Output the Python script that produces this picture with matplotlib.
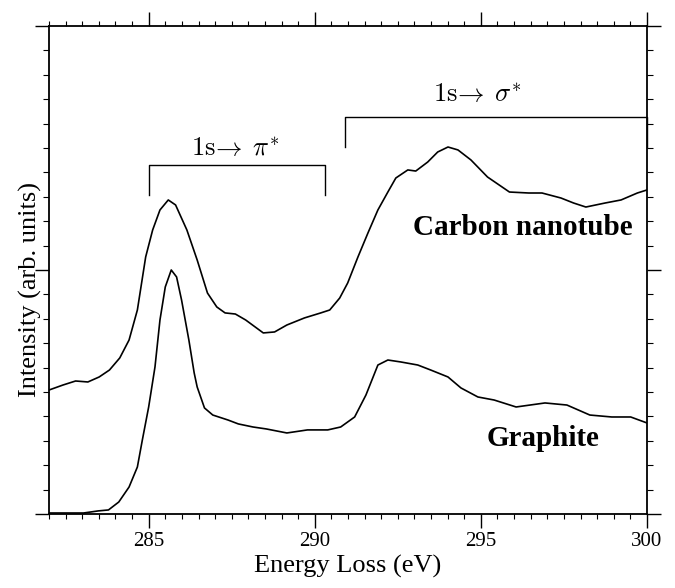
#!/usr/bin/env python3
# -*- coding: utf-8 -*-
"""C 1s energy loss spectra: carbon nanotube vs graphite"""

import numpy as np
import matplotlib
matplotlib.use('Agg')
import matplotlib.pyplot as plt
from matplotlib.ticker import MultipleLocator

# 数据 (eV, arb. units)
nanotube_energy = [282.0, 282.42, 282.80, 283.17, 283.51, 283.82, 284.13, 284.41, 284.66,
                   284.91, 285.12, 285.34, 285.59, 285.81, 286.15, 286.46, 286.77, 287.05,
                   287.30, 287.61, 287.92, 288.45, 288.79, 289.16, 289.69, 290.18, 290.45,
                   290.75, 290.99, 291.30, 291.60, 291.90, 292.20, 292.44, 292.80, 293.04,
                   293.40, 293.70, 294.01, 294.31, 294.70, 295.20, 295.86, 296.44, 296.84,
                   297.41, 297.79, 298.16, 298.74, 299.22, 299.71, 300.0]
nanotube_intensity = [1.016, 1.057, 1.090, 1.082, 1.123, 1.180, 1.279, 1.426, 1.672,
                      2.107, 2.328, 2.492, 2.574, 2.533, 2.328, 2.082, 1.811, 1.697,
                      1.648, 1.639, 1.590, 1.484, 1.492, 1.549, 1.607, 1.648, 1.672,
                      1.770, 1.893, 2.107, 2.303, 2.492, 2.639, 2.754, 2.820, 2.811,
                      2.885, 2.967, 3.008, 2.984, 2.902, 2.762, 2.639, 2.631, 2.631,
                      2.590, 2.549, 2.516, 2.549, 2.574, 2.631, 2.656]

graphite_energy = [282.0, 283.04, 283.48, 283.79, 284.10, 284.41, 284.66, 284.81, 285.00,
                   285.19, 285.34, 285.50, 285.68, 285.84, 285.99, 286.21, 286.37, 286.46,
                   286.68, 286.93, 287.39, 287.70, 288.14, 288.54, 289.16, 289.78, 290.39,
                   290.78, 291.20, 291.54, 291.90, 292.20, 292.59, 293.10, 293.49, 294.01,
                   294.40, 294.91, 295.40, 296.06, 296.93, 297.59, 298.28, 298.94, 299.51,
                   300.0]
graphite_intensity = [0.008, 0.008, 0.025, 0.033, 0.098, 0.221, 0.385, 0.607, 0.877,
                      1.205, 1.590, 1.861, 2.000, 1.943, 1.754, 1.426, 1.156, 1.041,
                      0.869, 0.811, 0.770, 0.738, 0.713, 0.697, 0.664, 0.689, 0.689,
                      0.713, 0.795, 0.975, 1.221, 1.262, 1.246, 1.221, 1.180, 1.123,
                      1.033, 0.959, 0.934, 0.877, 0.910, 0.893, 0.811, 0.795, 0.795,
                      0.746]

xticks = [285, 290, 295, 300]

# 跃迁区间标注
pi_range = (285.0, 290.3)
pi_levels = (2.615, 2.861)
sigma_range = (290.9, 300.0)
sigma_levels = (3.008, 3.254)

plt.rcParams['font.family'] = ['Liberation Serif', 'DejaVu Serif']
plt.rcParams['mathtext.fontset'] = 'cm'

fig = plt.figure(figsize=(6.75, 5.88), dpi=100)
ax = fig.add_axes([0.0726, 0.1259, 0.8859, 0.8299])

ax.plot(nanotube_energy, nanotube_intensity, color='black', lw=1.2)
ax.plot(graphite_energy, graphite_intensity, color='black', lw=1.2)

# 括号
for (x0, x1), (y0, y1) in [(pi_range, pi_levels), (sigma_range, sigma_levels)]:
    ax.plot([x0, x0, x1, x1], [y0, y1, y1, y0], color='black', lw=1.0, clip_on=False)

ax.text(287.6, 2.99, r'$\mathrm{1s}\!\rightarrow\;\pi^{*}$', fontsize=19,
        ha='center', va='center')
ax.text(294.9, 3.43, r'$\mathrm{1s}\!\rightarrow\;\sigma^{*}$', fontsize=19,
        ha='center', va='center')

ax.text(292.96, 2.35, 'Carbon nanotube', fontsize=21, fontweight='bold',
        ha='left', va='center')
ax.text(295.18, 0.62, 'Graphite', fontsize=21, fontweight='bold',
        ha='left', va='center')

ax.set_xlim(282.0, 300.0)
ax.set_ylim(0, 4)
ax.set_xticks(xticks)
ax.xaxis.set_minor_locator(MultipleLocator(0.5))
ax.yaxis.set_major_locator(MultipleLocator(2))
ax.yaxis.set_minor_locator(MultipleLocator(0.2))
ax.set_yticklabels([])

ax.tick_params(axis='x', which='both', direction='out', top=True, bottom=True,
               labelsize=15, pad=3)
ax.tick_params(axis='x', which='major', length=10, width=1.0)
ax.tick_params(axis='x', which='minor', length=3.5, width=0.8)
ax.tick_params(axis='y', which='both', direction='out', left=True, right=True)
ax.tick_params(axis='y', which='major', length=10, width=1.0)
ax.tick_params(axis='y', which='minor', length=4, width=0.8)

for s in ax.spines.values():
    s.set_linewidth(1.3)

ax.set_xlabel('Energy Loss (eV)', fontsize=19, labelpad=3)
ax.set_ylabel('Intensity (arb. units)', fontsize=19)
ax.yaxis.set_label_coords(-0.012, 0.46)

fig.savefig('out.png', dpi=100)
